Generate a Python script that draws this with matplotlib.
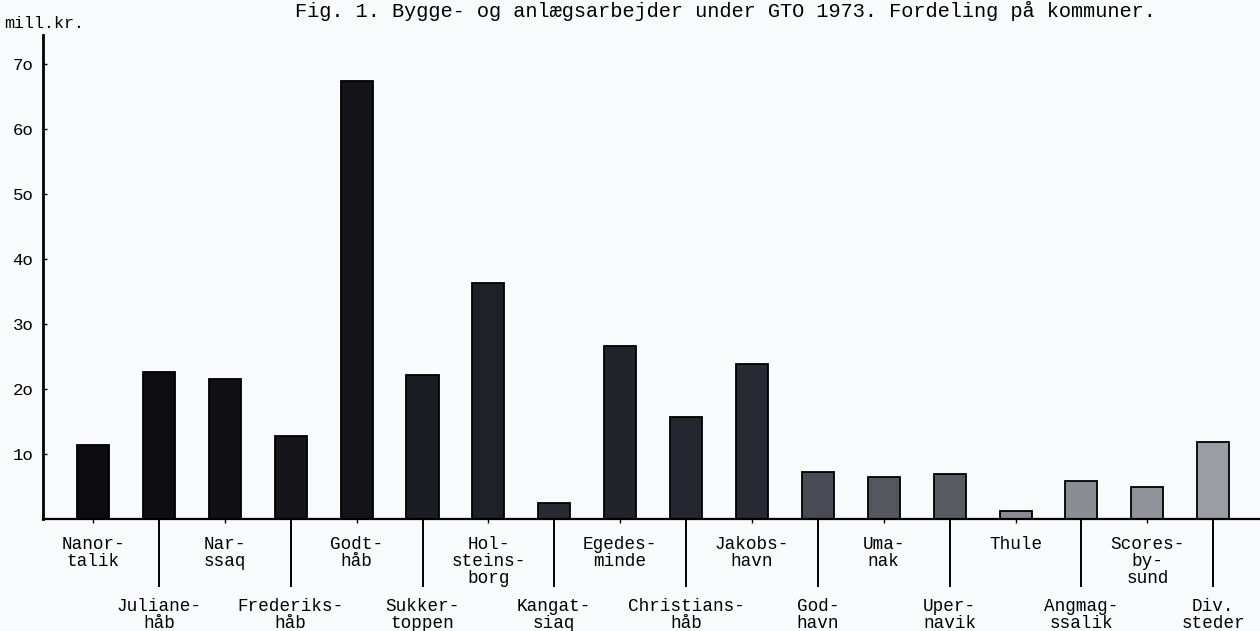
import matplotlib
matplotlib.use("Agg")
import matplotlib.pyplot as plt
import numpy as np

# ---- data ----
categories = [
    "Nanor-\ntalik", "Juliane-\nhåb", "Nar-\nssaq", "Frederiks-\nhåb",
    "Godt-\nhåb", "Sukker-\ntoppen", "Hol-\nsteins-\nborg", "Kangat-\nsiaq",
    "Egedes-\nminde", "Christians-\nhåb", "Jakobs-\nhavn", "God-\nhavn",
    "Uma-\nnak", "Uper-\nnavik", "Thule", "Angmag-\nssalik",
    "Scores-\nby-\nsund", "Div.\nsteder",
]
values = [11.4, 22.6, 21.6, 12.8, 67.4, 22.2, 36.3, 2.5, 26.6, 15.7,
          23.8, 7.2, 6.5, 7.0, 1.2, 5.8, 4.9, 11.8]
ytick_values = [10, 20, 30, 40, 50, 60, 70]
ytick_labels = ["1o", "2o", "3o", "4o", "5o", "6o", "7o"]
title = "Fig. 1. Bygge- og anlægsarbejder under GTO 1973. Fordeling på kommuner."
unit = "mill.kr."

# ---- styles ----
bar_colors = ["#0c0c0e", "#0e0e10", "#111114", "#16161a", "#141418", "#1c1c24",
              "#202029", "#2a2a34", "#23232c", "#262630", "#2a2a34", "#4a4a56",
              "#56565f", "#5a5a62", "#8a8a94", "#8c8c94", "#92929a", "#9c9ca4"]
bg = "#f9fafc"
mono = "Liberation Mono"

fig = plt.figure(figsize=(12.6, 6.31), dpi=100, facecolor=bg)
ax = fig.add_axes([43 / 1260, 112 / 631, 1217 / 1260, 484 / 631])
ax.set_facecolor(bg)

x = np.arange(len(values))
ax.bar(x, values, width=0.486, color=bar_colors, edgecolor="black", linewidth=1.3)

ax.set_xlim(-0.759, 17.709)
ax.set_ylim(0, 484 / 6.5)

for s in ("top", "right"):
    ax.spines[s].set_visible(False)
ax.spines["left"].set_linewidth(2.0)
ax.spines["bottom"].set_linewidth(1.6)

ax.set_yticks(ytick_values)
ax.set_yticklabels(ytick_labels, fontfamily=mono, fontsize=12.5)
ax.tick_params(axis="y", direction="in", length=3, width=1, pad=7)

ax.set_xticks(x[1::2])
ax.set_xticklabels(categories[1::2], fontfamily=mono, fontsize=12.7)
ax.set_xticks(x[0::2], minor=True)
ax.set_xticklabels(categories[0::2], minor=True, fontfamily=mono, fontsize=12.7)
ax.tick_params(axis="x", which="major", direction="out", length=49, width=1.4, pad=8)
ax.tick_params(axis="x", which="minor", direction="out", length=3, width=1.0, pad=9)
for lab in ax.get_xticklabels() + ax.get_xticklabels(minor=True):
    lab.set_linespacing(1.0)

fig.text(725 / 1260, 1 - 11 / 631, title, ha="center", va="center",
         fontfamily=mono, fontsize=14.6)
fig.text(4 / 1260, 1 - 24 / 631, unit, ha="left", va="center",
         fontfamily=mono, fontsize=12)

fig.savefig("out.png", dpi=100, facecolor=bg)
